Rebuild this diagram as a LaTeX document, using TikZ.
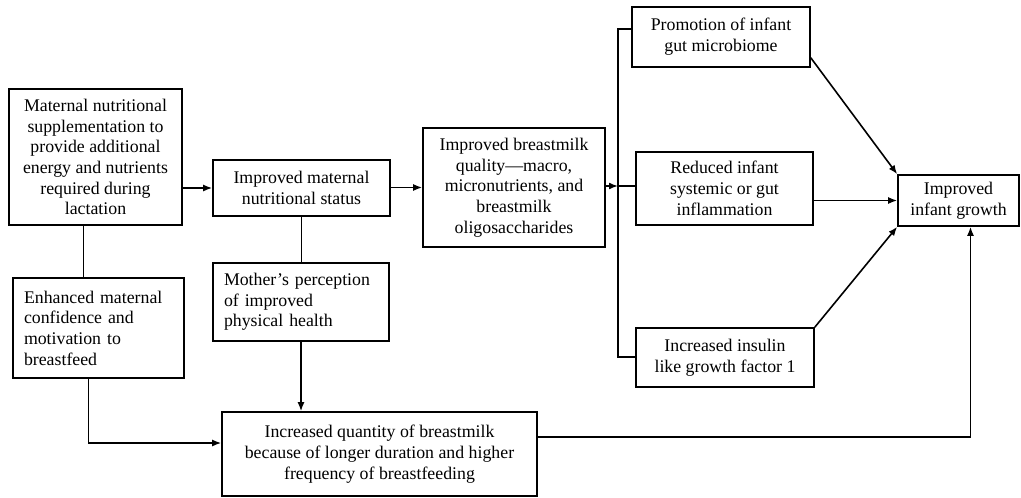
\documentclass[tikz,border=0pt]{standalone}
\usepackage{fontspec}
\setmainfont{Liberation Serif}
\usetikzlibrary{arrows.meta}
\begin{document}
\begin{tikzpicture}[>={Latex[length=9pt,width=7pt]},x=1pt,y=-1pt,line width=1.6pt,
  box/.style={draw,align=center,inner sep=2pt,font=\fontsize{17.8}{20.7}\selectfont},
  lbox/.style={box,align=left,inner xsep=11pt}]
\useasboundingbox (0,0) rectangle (1021,498);
% boxes
\node[box,minimum width=173pt,minimum height=136pt] (supp) at (95.5,157) {Maternal nutritional\\supplementation to\\provide additional\\energy and nutrients\\required during\\lactation};
\node[box,minimum width=177pt,minimum height=56pt] (status) at (301.5,188) {Improved maternal\\nutritional status};
\node[lbox,text width=154pt,minimum height=78pt] (percep) at (301,302) {Mother’s perception\\of improved\\physical health};
\node[lbox,text width=149pt,minimum height=100pt] (conf) at (98.5,328) {Enhanced maternal\\confidence and\\motivation to\\breastfeed};
\node[box,minimum width=315pt,minimum height=84pt] (quant) at (379.5,454) {Increased quantity of breastmilk\\because of longer duration and higher\\frequency of breastfeeding};
\node[box,minimum width=182pt,minimum height=119pt] (qual) at (514,187.5) {Improved breastmilk\\quality---macro,\\micronutrients, and\\breastmilk\\oligosaccharides};
\node[box,minimum width=178pt,minimum height=60pt] (micro) at (721,37) {Promotion of infant\\gut microbiome};
\node[box,minimum width=177pt,minimum height=73pt] (infl) at (724.5,188.5) {Reduced infant\\systemic or gut\\inflammation};
\node[box,minimum width=178pt,minimum height=59pt] (igf) at (725,357.5) {Increased insulin\\like growth factor 1};
\node[box,minimum width=121pt,minimum height=51pt] (growth) at (958.5,200.5) {Improved\\infant growth};
% connectors
\coordinate (br) at (618,186);
\coordinate (top) at (618,29);
\coordinate (bot) at (618,357);
\draw[->] (supp.east|-status.west)--(status.west);
\draw[->] (status.east|-qual.west)--(qual.west);
\draw[->] (qual.east|-br)--(br);
\draw (br)--(br-|infl.west);
\draw (top-|micro.west)--(top)--(bot)--(bot-|igf.west);
\draw (status.south)--(status.south|-percep.north);
\draw[->] (percep.south)--(percep.south|-quant.north);
\draw ([xshift=-12pt]supp.south)--([xshift=-12pt]supp.south|-conf.north);
\draw[->] ([xshift=-10pt]conf.south)|-([yshift=11pt]quant.west);
\draw[->] ([yshift=10pt]micro.south east)--(growth.north west);
\draw[->] (infl.east|-growth.west)--(growth.west);
\draw[->] (igf.north east)--(growth.south west);
\draw[->] ([yshift=17pt]quant.east)-|([xshift=12pt]growth.south);
\end{tikzpicture}
\end{document}
